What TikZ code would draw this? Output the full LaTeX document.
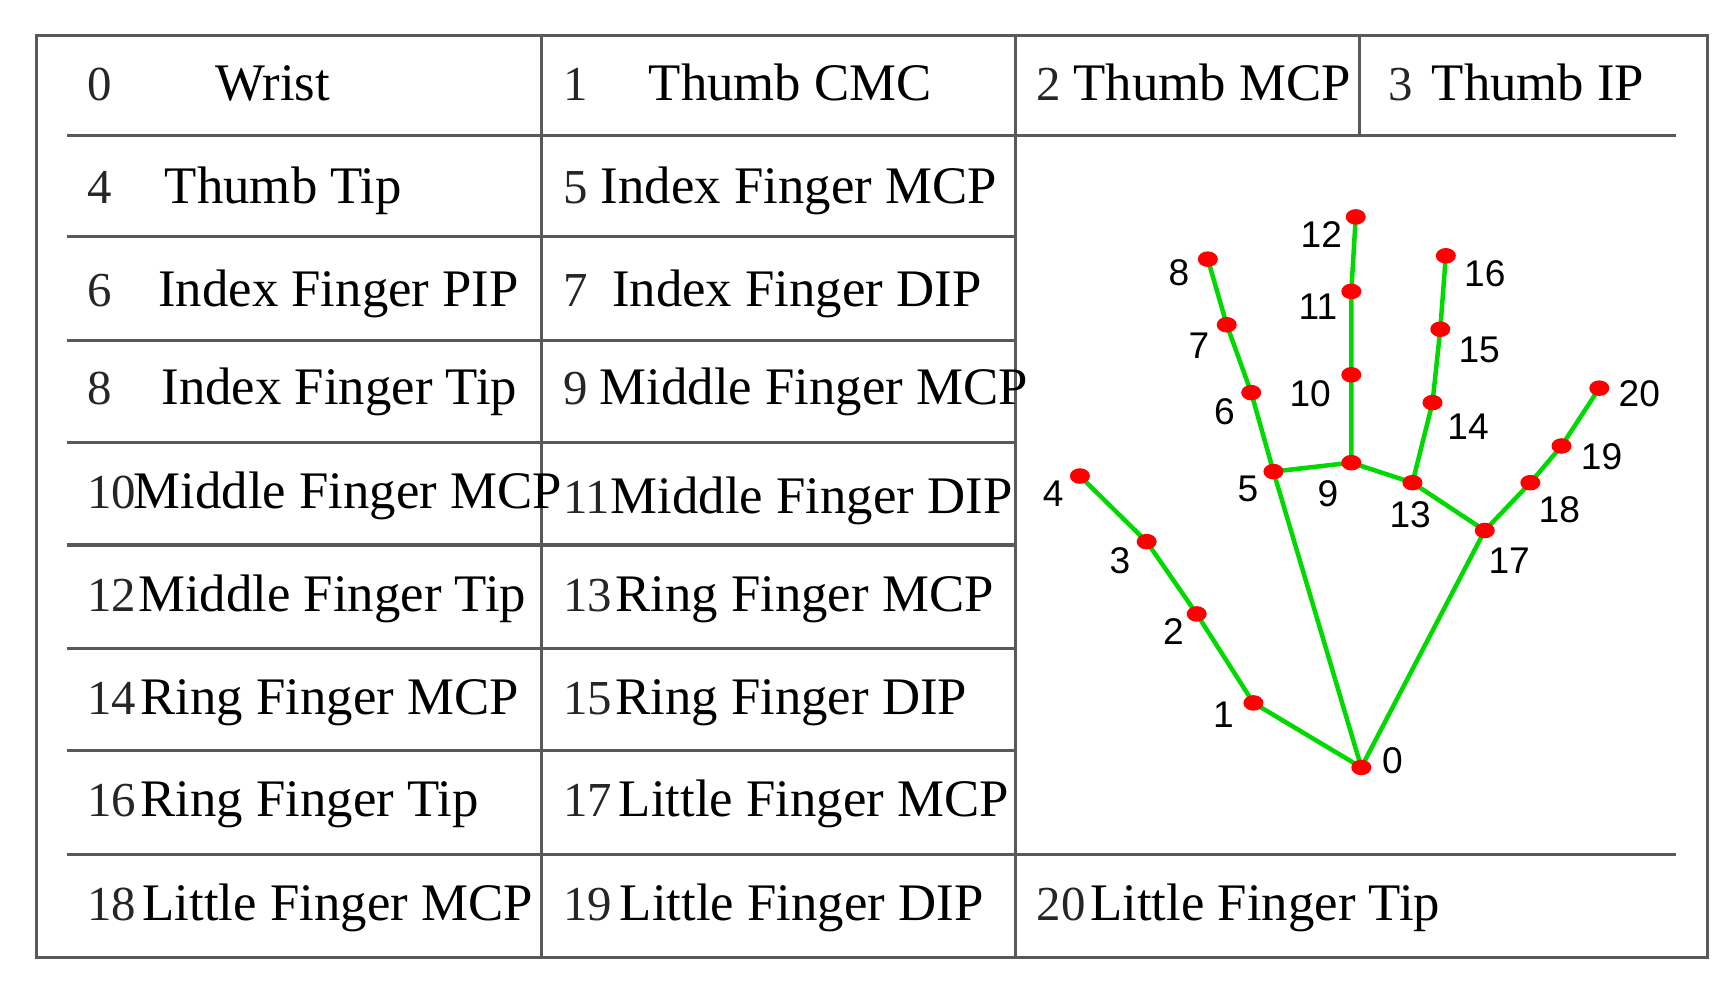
\documentclass[tikz,border=0pt]{standalone}
\usepackage{fontspec}
\setmainfont{Liberation Serif}
\newfontfamily\lblfont{Liberation Sans}
\begin{document}
\begin{tikzpicture}[x=0.02cm,y=-0.02cm,
  grid/.style={draw=black!65,line width=1.6pt},
  num/.style={anchor=base west,font=\fontsize{25}{28}\selectfont,text=black!85,inner sep=0pt},
  txt/.style={anchor=base west,font=\fontsize{27}{30}\selectfont,inner sep=0pt},
  pt/.style={ellipse,fill=red,minimum width=18*0.02cm,minimum height=14*0.02cm,inner sep=0pt},
  lbl/.style={font=\lblfont\fontsize{19}{22}\selectfont,inner sep=0pt},
  bone/.style={draw=green!85!black,line width=2.3pt}]
\useasboundingbox (0,0) rectangle (1560,890);
% table
\draw[grid] (33,32) rectangle (1535,861);
\draw[grid] (487,32) -- (487,861);
\draw[grid] (913,32) -- (913,861);
\draw[grid] (1222,32) -- (1222,122);
\foreach \y in {122,768} \draw[grid] (60,\y) -- (1507,\y);
\foreach \y in {213,306,398,490,583,675} \draw[grid] (60,\y) -- (913,\y);
% texts
\foreach \n/\nx/\t/\tx/\y in {
 0/78/Wrist/193/90, 1/506/Thumb CMC/583/90, 2/932/Thumb MCP/965/90, 3/1248/Thumb IP/1287/90,
 4/78/Thumb Tip/148/183, 5/506/Index Finger MCP/540/183,
 6/78/Index Finger PIP/142/276, 7/506/Index Finger DIP/550/276,
 8/78/Index Finger Tip/145/364, 9/506/Middle Finger MCP/539/364,
 10/78/Middle Finger MCP/120/457, 11/506/Middle Finger DIP/549/462,
 12/78/Middle Finger Tip/124/550, 13/506/Ring Finger MCP/553/550,
 14/78/Ring Finger MCP/126/642, 15/506/Ring Finger DIP/553/642,
 16/78/Ring Finger Tip/126/734, 17/506/Little Finger MCP/556/734,
 18/78/Little Finger MCP/128/828, 19/506/Little Finger DIP/557/828,
 20/932/Little Finger Tip/980/828}{
 \node[num] (n\n) at (\nx,\y) {\n};
 \node[txt] (t\n) at (\tx,\y) {\t};
}
% hand
\foreach \i/\x/\y/\lx/\ly in {
 0/1224/690/1252/684, 1/1127/632/1100/643, 2/1076/552/1055/568, 3/1031/487/1007/504,
 4/971/428/947/444, 5/1145/424/1122/440, 6/1125/353/1101/370, 7/1103/292/1078/311,
 8/1086/233/1060/245, 9/1215/416/1194/444, 10/1215/337/1178/354, 11/1215/262/1185/276,
 12/1219/195/1188/211, 13/1270/434/1268/463, 14/1288/362/1320/384, 15/1295/296/1330/315,
 16/1300/230/1335/246, 17/1335/477/1357/504, 18/1376/434/1402/458, 19/1404/401/1440/411,
 20/1438/349/1474/354}{
 \coordinate (p\i) at (\x,\y);
 \node[lbl] (l\i) at (\lx,\ly) {\i};
}
\draw[bone] (p0)--(p1)--(p2)--(p3)--(p4);
\draw[bone] (p0)--(p5)--(p6)--(p7)--(p8);
\draw[bone] (p5)--(p9)--(p10)--(p11)--(p12);
\draw[bone] (p9)--(p13)--(p14)--(p15)--(p16);
\draw[bone] (p13)--(p17)--(p18)--(p19)--(p20);
\draw[bone] (p0)--(p17);
\foreach \i in {0,...,20} \fill[red] (p\i) ellipse (9 and 7);
\end{tikzpicture}
\end{document}
